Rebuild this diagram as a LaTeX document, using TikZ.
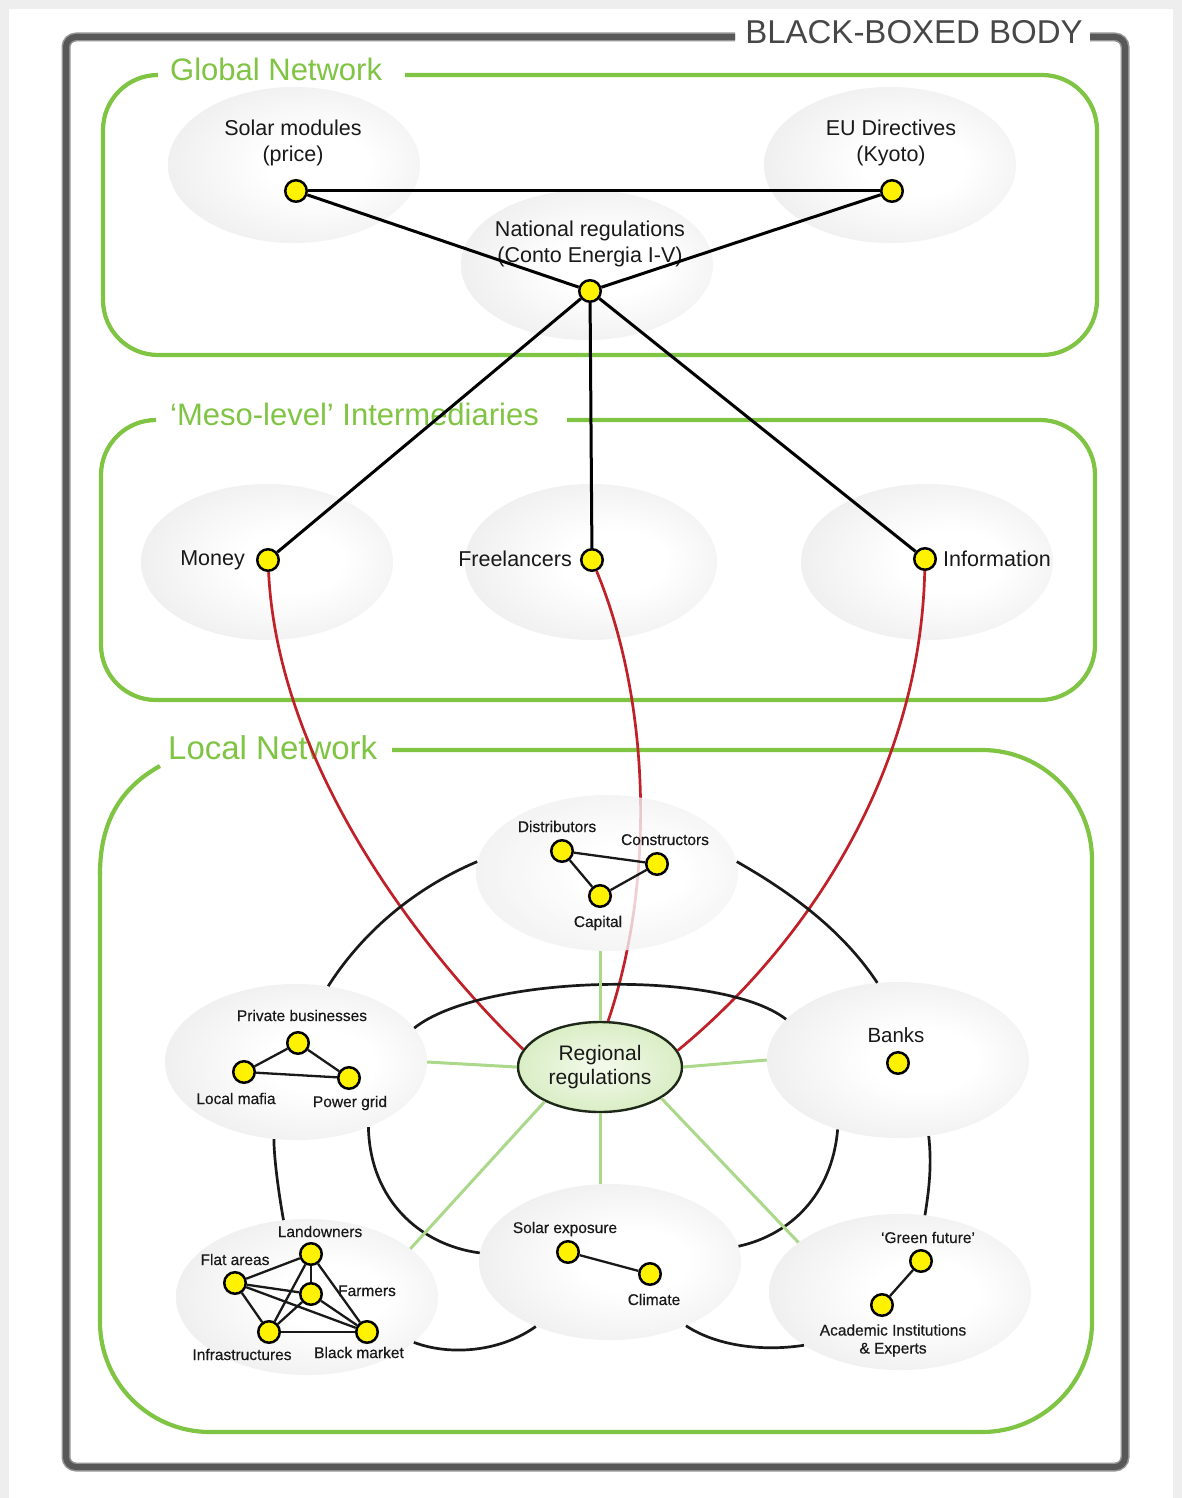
\documentclass[tikz,border=0pt]{standalone}
\usepackage{fontspec}
\setmainfont{Liberation Sans}
\usetikzlibrary{shapes.geometric}

\definecolor{pagegray}{RGB}{238,238,238}
\definecolor{framegray}{RGB}{88,88,88}
\definecolor{framesoft}{RGB}{150,150,150}
\definecolor{netgreen}{RGB}{128,196,68}
\definecolor{ellgray}{RGB}{220,220,220}
\definecolor{spokegreen}{RGB}{172,216,140}
\definecolor{linkred}{RGB}{192,32,40}
\definecolor{rrin}{RGB}{244,250,236}
\definecolor{rrout}{RGB}{190,225,158}
\definecolor{rredge}{RGB}{30,40,25}
\definecolor{inkdark}{RGB}{25,25,25}

\pgfdeclareradialshading{softball}{\pgfpoint{6bp}{0bp}}{color(0bp)=(white); color(10bp)=(white); color(50bp)=(ellgray)}
\pgfdeclareradialshading{greenball}{\pgfpoint{0bp}{0bp}}{color(0bp)=(rrin); color(50bp)=(rrout)}

\tikzset{
  cloud/.style={ellipse, inner sep=0pt, minimum width=252pt, minimum height=156pt, shade, shading=softball},
  dot/.style={circle, draw=black, fill=yellow, line width=2.5pt, minimum size=21.5pt, inner sep=0pt},
  lbl/.style={font=\fontsize{21.5}{26}\selectfont, text=inkdark, align=center, inner sep=0pt},
  sml/.style={font=\fontsize{15.5}{18}\selectfont\addfontfeatures{FakeBold=0.4}, text=inkdark, align=center, inner sep=0pt, anchor=base},
  ttl/.style={font=\fontsize{31}{36}\selectfont, text=netgreen, inner sep=0pt, anchor=west},
  netbox/.style={draw=netgreen, line width=4.2pt},
  gline/.style={draw=black, line width=3pt},
  redlink/.style={draw=linkred, line width=2.7pt},
  arcline/.style={draw=inkdark, line width=2.7pt},
  spoke/.style={draw=spokegreen, line width=3pt},
  clusteredge/.style={draw=inkdark, line width=2.3pt},
}

\begin{document}
\begin{tikzpicture}[x=1pt,y=-1pt]
% page
\fill[pagegray] (0,0) rectangle (1182,1498);
\fill[white] (9,9) rectangle (1173,1498);
\useasboundingbox (0,0) rectangle (1182,1498);

% outer frame with its title
\draw[framesoft, line width=9pt, rounded corners=10pt] (735,37) -- (66,37) -- (66,1467) -- (1125,1467) -- (1125,37) -- (1090,37);
\draw[framegray, line width=6pt, rounded corners=10pt] (735,37) -- (66,37) -- (66,1467) -- (1125,1467) -- (1125,37) -- (1090,37);
\node[font=\fontsize{33}{38}\selectfont, text=black!72, inner sep=0pt] (bbb) at (914,32) {BLACK-BOXED BODY};

% three network levels
\draw[netbox, rounded corners=55pt] (405,75) -- (1097,75) -- (1097,355) -- (103,355) -- (103,75) -- (158,75);
\node[ttl] (tglobal) at (170,69) {Global Network};

\draw[netbox, rounded corners=55pt] (567,420) -- (1095,420) -- (1095,700) -- (101,700) -- (101,420) -- (156,420);
\node[ttl] (tmeso) at (170,414) {‘Meso-level’ Intermediaries};

\draw[netbox, rounded corners=110pt] (392,750) -- (1092,750) -- (1092,1432) -- (100,1432) -- (100,872);
\draw[netbox] (100,874) .. controls (100,818) and (124,786) .. (160,766);
\node[ttl, font=\fontsize{33}{38}\selectfont] (tlocal) at (168,748) {Local Network};

% global level
\node[cloud] (c-sm) at (294,165) {};
\node[cloud] (c-eu) at (890,165) {};
\node[cloud, minimum height=150pt] (c-nr) at (587,265) {};
\node[lbl] (t-sm) at (293,143) {Solar modules\\(price)};
\node[lbl] (t-eu) at (891,143) {EU Directives\\(Kyoto)};
\node[lbl] (t-nr) at (590,244) {National regulations\\(Conto Energia I-V)};

% meso level
\node[cloud] (c-mo) at (267,562) {};
\node[cloud] (c-fr) at (591,562) {};
\node[cloud] (c-inf) at (927,562) {};
\node[lbl, anchor=base east] (t-mo) at (245,565) {Money};
\node[lbl, anchor=base east] (t-fr) at (572,566) {Freelancers};
\node[lbl, anchor=base west] (t-inf) at (943,566) {Information};

\node[dot] (sm) at (296,191) {};
\node[dot] (eu) at (892,191) {};
\node[dot] (nr) at (590,291) {};
\node[dot] (mo) at (268,560) {};
\node[dot] (fr) at (592,560) {};
\node[dot] (inf) at (925,559) {};

% regional hub
\node[ellipse, draw=rredge, line width=2.4pt, shade, shading=greenball, minimum width=164pt, minimum height=90pt, inner sep=0pt,
      font=\fontsize{21}{24}\selectfont, text=inkdark, align=center] (rr) at (600,1067) {Regional\\regulations};

% links from the intermediaries down to the regional hub
\draw[redlink] (mo) .. controls (278,765) and (420,950) .. (rr.167);
\draw[redlink] (fr) .. controls (650,700) and (656,880) .. (rr.80);
\draw[redlink] (inf) .. controls (920,780) and (800,950) .. (rr.12);

% local clusters
\node[cloud, minimum width=262pt, fill opacity=0.78] (dc) at (607,873) {};
\node[cloud, minimum width=262pt] (pb) at (296,1062) {};
\node[cloud, minimum width=262pt] (bk) at (898,1060) {};
\node[cloud, minimum width=262pt] (lc) at (307,1297) {};
\node[cloud, minimum width=262pt] (se) at (610,1262) {};
\node[cloud, minimum width=262pt] (gf) at (900,1292) {};

% ring of connections between clusters
\draw[arcline] (pb.67) .. controls (364,930) and (417,887) .. (dc.175);
\draw[arcline] (dc.5) .. controls (792,893) and (843,931) .. (bk.105);
\draw[arcline] (pb.254) .. controls (274,1157) and (278,1189) .. (lc.107);
\draw[arcline] (bk.292) .. controls (932,1165) and (929,1190) .. (gf.72);
\draw[arcline] (lc.337) .. controls (450,1356) and (500,1352) .. (se.221);
\draw[arcline] (se.320) .. controls (715,1345) and (760,1352) .. (gf.209);
\draw[arcline] (pb.16) .. controls (480,975) and (720,968) .. (bk.160);
\draw[arcline] (pb.318) .. controls (370,1200) and (420,1245) .. (se.176);
\draw[arcline] (bk.229) .. controls (832,1195) and (790,1235) .. (se.7);

% spokes from the regional hub
\draw[spoke] (rr.north) -- (rr.north |- dc.south);
\draw[spoke] (rr.south) -- (rr.south |- se.north);
\draw[spoke] (rr.west) -- (pb.east);
\draw[spoke] (rr.east) -- (bk.west);
\draw[spoke] (rr.212) -- (lc.25);
\draw[spoke] (rr.333) -- (gf.154);

% cluster contents
\node[sml] (l-dist) at (557,832) {Distributors};
\node[sml] (l-cons) at (665,845) {Constructors};
\node[sml] (l-cap) at (598,927) {Capital};
\node[sml] (l-pb) at (302,1021) {Private businesses};
\node[sml] (l-maf) at (236,1104) {Local mafia};
\node[sml] (l-pg) at (350,1107) {Power grid};
\node[font=\fontsize{20.5}{24}\selectfont, text=inkdark, inner sep=0pt, anchor=base] (l-bk) at (896,1042.5) {Banks};
\node[sml] (l-land) at (320,1237) {Landowners};
\node[sml] (l-flat) at (235,1265) {Flat areas};
\node[sml] (l-farm) at (367,1296) {Farmers};
\node[sml] (l-inf) at (242,1360) {Infrastructures};
\node[sml] (l-bm) at (359,1358) {Black market};
\node[sml] (l-sol) at (565,1233) {Solar exposure};
\node[sml] (l-clim) at (654,1305) {Climate};
\node[sml] (l-gf) at (928,1243) {‘Green future’};
\node[sml, anchor=center] (l-ac) at (893,1340.5) {Academic Institutions\\\& Experts};

\node[dot] (d-dist) at (562,851) {};
\node[dot] (d-cons) at (657,864) {};
\node[dot] (d-cap) at (600,896) {};
\node[dot] (d-pb) at (298,1043) {};
\node[dot] (d-maf) at (244,1072) {};
\node[dot] (d-pg) at (349,1078) {};
\node[dot] (d-bk) at (898,1063) {};
\node[dot] (d-land) at (311,1254) {};
\node[dot] (d-flat) at (235,1283) {};
\node[dot] (d-farm) at (311,1294) {};
\node[dot] (d-inf) at (269,1332) {};
\node[dot] (d-bm) at (367,1332) {};
\node[dot] (d-sol) at (568,1252) {};
\node[dot] (d-clim) at (650,1274) {};
\node[dot] (d-gf) at (921,1261) {};
\node[dot] (d-ac) at (882,1305) {};

\draw[clusteredge] (d-dist) -- (d-cons);
\draw[clusteredge] (d-dist) -- (d-cap);
\draw[clusteredge] (d-cap) -- (d-cons);
\draw[clusteredge] (d-pb) -- (d-maf);
\draw[clusteredge] (d-pb) -- (d-pg);
\draw[clusteredge] (d-maf) -- (d-pg);
\draw[clusteredge] (d-flat) -- (d-land);
\draw[clusteredge] (d-flat) -- (d-farm);
\draw[clusteredge] (d-flat) -- (d-inf);
\draw[clusteredge] (d-flat) -- (d-bm);
\draw[clusteredge] (d-land) -- (d-farm);
\draw[clusteredge] (d-land) -- (d-inf);
\draw[clusteredge] (d-land) -- (d-bm);
\draw[clusteredge] (d-farm) -- (d-inf);
\draw[clusteredge] (d-farm) -- (d-bm);
\draw[clusteredge] (d-inf) -- (d-bm);
\draw[clusteredge] (d-sol) -- (d-clim);
\draw[clusteredge] (d-gf) -- (d-ac);

% global links
\draw[gline] (sm) -- (eu);
\draw[gline] (sm) -- (nr);
\draw[gline] (eu) -- (nr);
\draw[gline] (nr) -- (mo);
\draw[gline] (nr) -- (fr);
\draw[gline] (nr) -- (inf);
\end{tikzpicture}
\end{document}
